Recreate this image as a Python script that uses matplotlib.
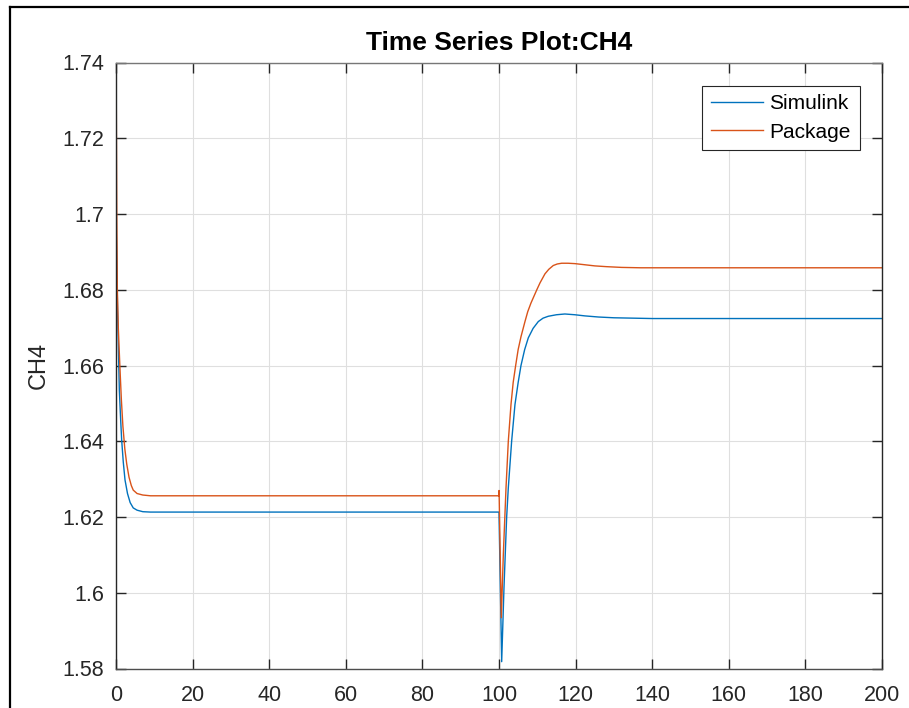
import matplotlib
matplotlib.use("Agg")
import matplotlib.pyplot as plt
from matplotlib.lines import Line2D

plt.rcParams['font.family'] = ['Liberation Sans', 'DejaVu Sans']

# ---- data ----
t_sim = [0, 0.15, 0.4, 0.87, 1.2, 1.48, 1.9, 2.35, 3.0, 3.7, 4.5, 5.5, 7.0, 9.0,
         100.0, 100.7, 101.3, 102.0, 102.43, 103.3, 104.17, 105.0, 105.74, 106.7,
         107.65, 108.9, 110.26, 111.5, 112.87, 115.0, 117.2, 119.8, 122.4, 126, 130,
         135, 140, 150, 200]
v_sim = [1.700, 1.690, 1.675, 1.6535, 1.646, 1.6403, 1.6345, 1.6298, 1.6262, 1.6238,
         1.6224, 1.6218, 1.6214, 1.6213,
         1.6213, 1.5818, 1.6013, 1.6200, 1.6277, 1.6400, 1.6497, 1.6555, 1.6600, 1.6642,
         1.6673, 1.6698, 1.6716, 1.6725, 1.6730, 1.6734, 1.6736, 1.6734, 1.6731, 1.6728,
         1.6726, 1.6725, 1.6724, 1.6724, 1.6724]

t_pkg = [0, 0.05, 0.2, 0.35, 0.6, 1.0, 1.4, 1.8, 2.3, 2.8, 3.4, 4.0, 4.5, 5.5, 7.0, 9.0,
         100.0, 100.02, 100.6, 101.13, 101.83, 102.43, 103.13, 103.7, 104.35, 105.0,
         105.74, 106.78, 107.5, 108.35, 109.83, 110.7, 112.0, 113.0, 114.17, 115.2,
         116.35, 118.0, 119.8, 122.4, 125, 128, 132, 137, 145, 200]
v_pkg = [1.630, 1.7357, 1.700, 1.680, 1.670, 1.660, 1.651, 1.644, 1.638, 1.634, 1.6305,
         1.6283, 1.6271, 1.6262, 1.6258, 1.6256,
         1.6256, 1.6270, 1.5934, 1.6101, 1.6277, 1.6400, 1.6497, 1.6555, 1.6600, 1.6642,
         1.6676, 1.6716, 1.6742, 1.6765, 1.6799, 1.6818, 1.6842, 1.6854, 1.6864, 1.6868,
         1.6870, 1.6870, 1.6869, 1.6866, 1.6863, 1.6861, 1.6859, 1.6858, 1.6858, 1.6858]

series_names = ["Simulink", "Package"]
xticks = [0, 20, 40, 60, 80, 100, 120, 140, 160, 180, 200]
yticks = [1.58, 1.60, 1.62, 1.64, 1.66, 1.68, 1.70, 1.72, 1.74]
ytick_labels = ["1.58", "1.6", "1.62", "1.64", "1.66", "1.68", "1.7", "1.72", "1.74"]

# ---- figure ----
fig = plt.figure(figsize=(9.09, 7.08), dpi=100)
ax = fig.add_axes([116/909, 1 - 668.5/708, (882-116)/909, (668.5-62.5)/708])

ax.plot(t_sim, v_sim, color='#0072BD', lw=1.0, label=series_names[0])
ax.plot(t_pkg, v_pkg, color='#D95319', lw=1.0, label=series_names[1])

ax.set_xlim(0, 200)
ax.set_ylim(1.58, 1.74)
ax.set_xticks(xticks)
ax.set_xticklabels([str(x) for x in xticks])
ax.set_yticks(yticks)
ax.set_yticklabels(ytick_labels)

ax.grid(True, color='#dfdfdf', lw=0.8)
ax.set_axisbelow(True)
ax.tick_params(direction='in', length=7, width=1.0, top=True, right=True,
               labelsize=15.5, colors='#262626')
ax.tick_params(axis='x', pad=12)
ax.tick_params(axis='y', pad=8.5)
for side, c in [('left', '#262626'), ('right', '#262626'),
                ('bottom', '#4d4d4d'), ('top', '#777777')]:
    ax.spines[side].set_color(c)
    ax.spines[side].set_linewidth(1.0)

ax.set_title("Time Series Plot:CH4", fontsize=19, fontweight='bold', pad=9, color='black')
ax.set_ylabel("CH4", fontsize=17, color='#262626', labelpad=9)

leg = ax.legend(loc='upper right', bbox_to_anchor=(859.5/909, 1 - 85.5/708),
                bbox_transform=fig.transFigure, fontsize=15, frameon=True,
                fancybox=False, edgecolor='#262626', framealpha=1,
                handlelength=2.5, handletextpad=0.3, borderpad=0.42,
                labelspacing=0.45, borderaxespad=0)
leg.get_frame().set_linewidth(0.8)

# figure border (MATLAB window frame)
fig.add_artist(Line2D([9.5/909, 9.5/909], [0, 1 - 7/708], transform=fig.transFigure,
                      color='black', lw=1.6))
fig.add_artist(Line2D([9.5/909, 1], [1 - 7/708, 1 - 7/708], transform=fig.transFigure,
                      color='black', lw=1.6))

fig.savefig("out.png", dpi=100)
